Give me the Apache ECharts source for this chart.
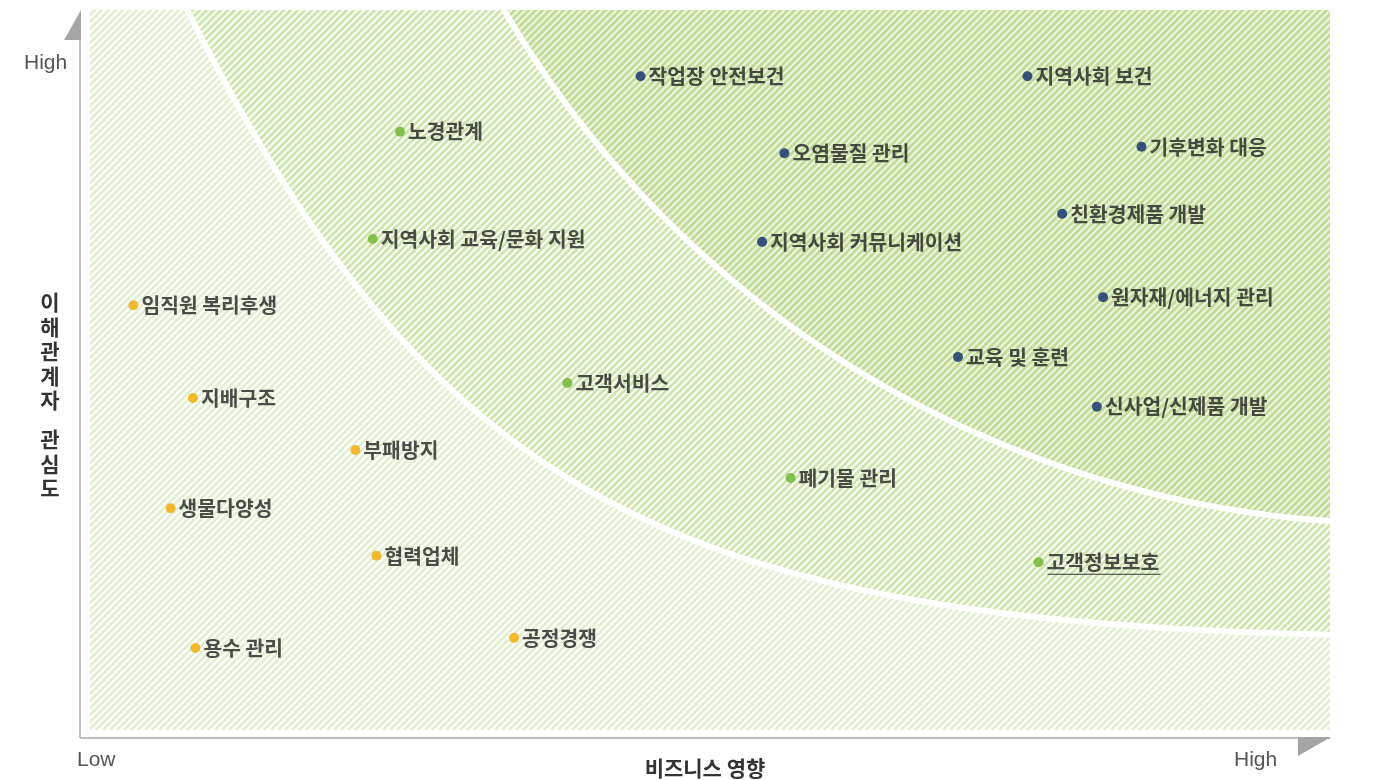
<!DOCTYPE html>
<html>
<head>
<meta charset="utf-8">
<script src="https://cdn.jsdelivr.net/npm/echarts@6/dist/echarts.min.js"></script>
<style>
html,body{margin:0;padding:0;background:#fff;}
#main{width:1379px;height:780px;}
</style>
</head>
<body>
<div id="main"></div>
<script>
// 이슈별 위치 (x: 비즈니스 영향, y: 이해관계자 관심도, 0~100)
const navyNames = ['작업장 안전보건','지역사회 보건','오염물질 관리','기후변화 대응','친환경제품 개발','지역사회 커뮤니케이션','원자재/에너지 관리','교육 및 훈련','신사업/신제품 개발'];
const navyX = [44.4, 75.6, 56.0, 84.8, 78.4, 54.2, 81.7, 70.0, 81.2];
const navyY = [90.8, 90.8, 80.1, 81.0, 71.7, 67.8, 60.1, 51.8, 44.9];

const greenNames = ['노경관계','지역사회 교육/문화 지원','고객서비스','폐기물 관리','고객정보보호'];
const greenX = [25.0, 22.8, 38.5, 56.5, 76.5];
const greenY = [83.1, 68.2, 48.2, 35.0, 23.3];

const orangeNames = ['임직원 복리후생','지배구조','부패방지','생물다양성','협력업체','용수 관리','공정경쟁'];
const orangeX = [3.5, 8.3, 21.4, 6.5, 23.1, 8.5, 34.2];
const orangeY = [59.0, 46.1, 38.9, 30.8, 24.2, 11.4, 12.8];

// 영역 경계 (데이터 좌표): 안쪽은 타원, 바깥쪽은 베지어 곡선
const innerZone = {cx: 105.6, cy: 172.9, rx: 83.7, ry: 144.2};
const outerCurve = [[7.7, 100.5], [27.6, 31.7], [47.6, 15.3], [100.5, 13.2]];

function toData(names, xs, ys) {
  return names.map((n, i) => [xs[i], ys[i], n]);
}

function stripes(bg, fg) {
  const s = 7;
  const c = document.createElement('canvas');
  c.width = c.height = s;
  const g = c.getContext('2d');
  g.fillStyle = bg;
  g.fillRect(0, 0, s, s);
  g.strokeStyle = fg;
  g.lineWidth = 2.8;
  g.beginPath();
  g.moveTo(-2, s + 2); g.lineTo(s + 2, -2);
  g.moveTo(-2, 2); g.lineTo(2, -2);
  g.moveTo(s - 2, s + 2); g.lineTo(s + 2, s - 2);
  g.stroke();
  return {image: c, repeat: 'repeat'};
}
const patLight = stripes('#ffffff', '#e2efd0');
const patMid = stripes('#fbfdf6', '#cfe5ae');
const patDark = stripes('#ecf4df', '#c2dc96');

function renderZones(params, api) {
  const p0 = api.coord([0, 0]), p1 = api.coord([100, 100]);
  const inner = [];
  for (let i = 0; i <= 360; i++) {
    const t = i / 360 * 2 * Math.PI;
    inner.push(api.coord([innerZone.cx + innerZone.rx * Math.cos(t), innerZone.cy + innerZone.ry * Math.sin(t)]));
  }
  const outer = [];
  const [a, b, c, d] = outerCurve;
  for (let i = 0; i <= 120; i++) {
    const t = i / 120, u = 1 - t;
    const k0 = u * u * u, k1 = 3 * u * u * t, k2 = 3 * u * t * t, k3 = t * t * t;
    outer.push(api.coord([
      k0 * a[0] + k1 * b[0] + k2 * c[0] + k3 * d[0],
      k0 * a[1] + k1 * b[1] + k2 * c[1] + k3 * d[1]
    ]));
  }
  const outerFill = outer.concat([api.coord([101, 101])]);
  return {
    type: 'group',
    children: [
      {type: 'rect', shape: {x: p0[0], y: p1[1], width: p1[0] - p0[0], height: p0[1] - p1[1]}, style: {fill: patLight}},
      {type: 'polygon', shape: {points: outerFill}, style: {fill: patMid}},
      {type: 'polygon', shape: {points: inner}, style: {fill: patDark}},
      {type: 'polyline', shape: {points: outer}, style: {stroke: '#ffffff', lineWidth: 6, fill: null}},
      {type: 'polyline', shape: {points: inner}, style: {stroke: '#ffffff', lineWidth: 6, fill: null}}
    ]
  };
}

const labelStyle = {
  show: true,
  position: 'right',
  distance: 3,
  formatter: p => p.data[2],
  fontFamily: 'Noto Sans CJK KR',
  fontWeight: 'bold',
  fontSize: 20.4,
  color: '#222222'
};

function dots(name, color, data) {
  return {
    name: name,
    type: 'scatter',
    symbolSize: 10,
    itemStyle: {color: color},
    label: labelStyle,
    z: 5,
    data: data
  };
}

const chart = echarts.init(document.getElementById('main'));
chart.setOption({
  animation: false,
  grid: {left: 90, top: 10, right: 49, bottom: 50},
  xAxis: {type: 'value', min: 0, max: 100, axisLine: {show: false}, axisTick: {show: false}, axisLabel: {show: false}, splitLine: {show: false}},
  yAxis: {type: 'value', min: 0, max: 100, axisLine: {show: false}, axisTick: {show: false}, axisLabel: {show: false}, splitLine: {show: false}},
  series: [
    {type: 'custom', renderItem: renderZones, data: [0], clip: true, silent: true, z: 1},
    dots('navy', '#0d2c6c', toData(navyNames, navyX, navyY)),
    dots('green', '#6cb52d', toData(greenNames, greenX, greenY)),
    dots('orange', '#f4a900', toData(orangeNames, orangeX, orangeY))
  ]
});

const gi = greenNames.indexOf('고객정보보호');
const up = chart.convertToPixel({gridIndex: 0}, [greenX[gi], greenY[gi]]);
const axisColor = '#a9a9a9';
const textGray = '#555555';
const titleFont = {fontFamily: 'Noto Sans CJK KR', fontWeight: 'bold', fontSize: 21, fill: '#333333'};
const lowHigh = {fontFamily: 'Liberation Sans', fontSize: 21, fill: textGray, verticalAlign: 'middle'};

chart.setOption({
  graphic: [
    {type: 'line', shape: {x1: 80, y1: 40, x2: 80, y2: 738}, style: {stroke: axisColor, lineWidth: 1.5}},
    {type: 'line', shape: {x1: 80, y1: 738, x2: 1330, y2: 738}, style: {stroke: axisColor, lineWidth: 1.5}},
    {type: 'polygon', shape: {points: [[81, 10], [81, 40], [64, 40]]}, style: {fill: '#a5a5a5'}},
    {type: 'polygon', shape: {points: [[1298, 737], [1331, 737], [1298, 756]]}, style: {fill: '#a5a5a5'}},
    {type: 'text', x: 24, y: 63, style: Object.assign({text: 'High'}, lowHigh)},
    {type: 'text', x: 77, y: 760, style: Object.assign({text: 'Low'}, lowHigh)},
    {type: 'text', x: 1234, y: 760, style: Object.assign({text: 'High'}, lowHigh)},
    {type: 'text', x: 705, y: 768, style: Object.assign({text: '비즈니스 영향', align: 'center', verticalAlign: 'middle'}, titleFont)},
    {type: 'text', x: 50, y: 290, style: Object.assign({text: '이\n해\n관\n계\n자', align: 'center', verticalAlign: 'top', lineHeight: 24.5}, titleFont)},
    {type: 'text', x: 50, y: 427, style: Object.assign({text: '관\n심\n도', align: 'center', verticalAlign: 'top', lineHeight: 24.5}, titleFont)},
    {type: 'line', z: 10, shape: {x1: up[0] + 9, y1: up[1] + 12, x2: up[0] + 122, y2: up[1] + 12}, style: {stroke: '#333333', lineWidth: 1.2}}
  ]
});
</script>
</body>
</html>
